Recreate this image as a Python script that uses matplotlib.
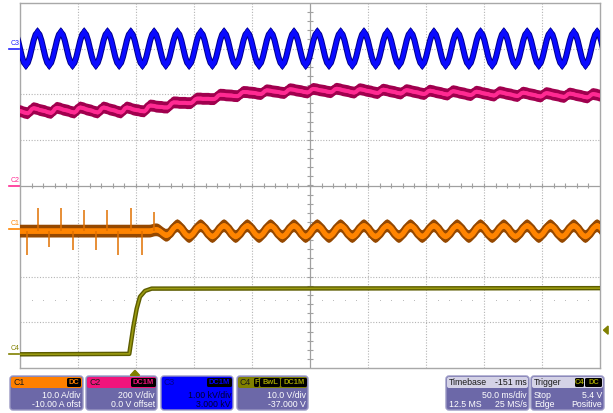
import numpy as np
import matplotlib
matplotlib.use("Agg")
import matplotlib.pyplot as plt
from matplotlib.patches import FancyBboxPatch, Polygon

plt.rcParams["font.family"] = ["Liberation Sans", "DejaVu Sans"]

# ── DATA (time in ms from left screen edge, levels in divisions) ────────────
PERIOD = 20.1                      # mains period (ms)
T_START = -10.0                    # start of first sampled cycle

# one cycle of each ripple, 12 samples (div)
c3_cycle = [0.0, 0.18, 0.31, 0.36, 0.31, 0.18, 0.0, -0.18, -0.31, -0.36, -0.31, -0.18]
c2_cycle = [0.04, 0.06, 0.05, 0.04, 0.02, 0.01, 0.0, -0.01, -0.03, -0.04, -0.05, -0.02]
c1_cycle = [0.0, 0.06, 0.10, 0.12, 0.10, 0.06, 0.0, -0.06, -0.10, -0.12, -0.10, -0.06]

# C3 (blue) offset level
c3_level = 3.0

# C2 (pink) slow level
c2_t = [0, 50, 100, 120, 145, 170, 200, 235, 270, 330, 400, 500]
c2_lvl = [1.63, 1.65, 1.65, 1.72, 1.83, 1.94, 2.03, 2.07, 2.08, 2.05, 2.01, 1.96]
c2_amp_t = [0, 115, 140, 500]
c2_amp = [1.0, 1.0, 0.7, 0.7]

# C1 (orange) level, ripple envelope and spikes
c1_level = -1.0
c1_amp_t = [0, 112, 130, 500]
c1_amp = [0.0, 0.0, 1.0, 1.0]
c1_up_t = [15.5, 35.3, 55.2, 75.0, 95.7, 115.5]
c1_up_y = [-0.49, -0.49, -0.53, -0.53, -0.49, -0.58]
c1_dn_t = [6.0, 25.0, 45.7, 65.5, 84.5, 105.2]
c1_dn_y = [-1.52, -1.35, -1.41, -1.41, -1.52, -1.52]

# C4 (olive) step
c4_t = [0, 94.2, 97.7, 100.6, 103.4, 107.8, 113.5, 500]
c4_lvl = [-3.70, -3.69, -3.10, -2.70, -2.44, -2.31, -2.26, -2.25]

TRIG_T = 99.1
TRIG_LVL = -3.17
MARK_ROW = -2.51

# ── FIGURE ──────────────────────────────────────────────────────────────────
W, H = 613, 413
fig = plt.figure(figsize=(W / 100, H / 100), dpi=100)
fig.patch.set_facecolor("white")

over = fig.add_axes([0, 0, 1, 1])
over.set_xlim(0, W)
over.set_ylim(H, 0)
over.axis("off")

ax = fig.add_axes([20 / W, (H - 368) / H, 580 / W, 365 / H])
ax.set_xlim(0, 500)
ax.set_ylim(-4, 4)
ax.set_xticks([])
ax.set_yticks([])
for s in ax.spines.values():
    s.set_color("#a8a8a8")
    s.set_linewidth(1.0)

# grid
grid_kw = dict(color="#b4b4b4", linewidth=0.8, linestyle=(0, (1, 1.5)), zorder=0)
for gx in range(50, 500, 50):
    if gx != 250:
        ax.axvline(gx, **grid_kw)
for gy in range(-3, 4):
    if gy != 0:
        ax.axhline(gy, **grid_kw)
ax.axvline(250, color="#a0a0a0", linewidth=0.9, zorder=0)
ax.axhline(0, color="#a0a0a0", linewidth=0.9, zorder=0)
tick_x = np.arange(10, 500, 10)
ax.vlines(tick_x, -0.06, 0.06, color="#a0a0a0", linewidth=0.8, zorder=0)
tick_y = np.arange(-3.8, 4.0, 0.2)
ax.hlines(tick_y, 247.5, 252.5, color="#a0a0a0", linewidth=0.8, zorder=0)
row_x = [x for x in tick_x if x % 50 != 0]
ax.plot(row_x, [MARK_ROW] * len(row_x), ls="none", marker="o", ms=0.7,
        mew=0, color="#b8b8b8", zorder=0)

# sampled time base
n_cyc = 27
t = T_START + np.arange(n_cyc * 12) * (PERIOD / 12)


def trace(y, edge, core, half, core_half, edge_lw, core_lw):
    ax.fill_between(t, y - half, y + half, color=edge, lw=0, zorder=3)
    ax.plot(t, y, color=edge, lw=edge_lw, zorder=3, solid_joinstyle="round")
    ax.fill_between(t, y - core_half, y + core_half, color=core, lw=0, zorder=3)
    ax.plot(t, y, color=core, lw=core_lw, zorder=3, solid_joinstyle="round")


# C3 blue
y3 = c3_level + np.tile(c3_cycle, n_cyc)
trace(y3, "#00008c", "#0a0aff", 0.11, 0.085, 4.3, 2.9)

# C2 pink
y2 = np.interp(t, c2_t, c2_lvl) + np.tile(c2_cycle, n_cyc) * np.interp(t, c2_amp_t, c2_amp)
trace(y2, "#a0004e", "#ff2a92", 0.13, 0.04, 6.5, 2.9)

# C1 orange
y1 = c1_level + np.tile(c1_cycle, n_cyc) * np.interp(t, c1_amp_t, c1_amp)
trace(y1, "#954800", "#ff8400", 0.14, 0.06, 6.5, 3.6)
ax.vlines(c1_up_t, c1_level, c1_up_y, color="#e07000", linewidth=1.1, zorder=4)
ax.vlines(c1_dn_t, c1_dn_y, c1_level, color="#e07000", linewidth=1.1, zorder=4)

# C4 olive
ax.plot(c4_t, c4_lvl, color="#5c5c00", linewidth=3.2, zorder=3,
        solid_joinstyle="round")
ax.plot(c4_t, c4_lvl, color="#9a9a10", linewidth=1.2, zorder=3)

# channel markers on the left edge
markers = [("C3", c3_level, "#2020ff"), ("C2", 0.0, "#ff2a92"),
           ("C1", c1_level + 0.04, "#ff8400"), ("C4", c4_lvl[0], "#808000")]
for name, lvl, col in markers:
    ax.plot([-9.5, 0], [lvl, lvl], color=col, linewidth=1.2, clip_on=False)
    ax.text(-8.5, lvl + 0.04, name, color=col, fontsize=5, ha="left",
            va="bottom", clip_on=False)

# trigger markers
ax.add_patch(Polygon([[TRIG_T - 4, -4.16], [TRIG_T + 4, -4.16], [TRIG_T, -4.05]],
                     closed=True, color="#808000", clip_on=False))
ax.add_patch(Polygon([[503, TRIG_LVL], [507, TRIG_LVL + 0.09], [507, TRIG_LVL - 0.09]],
                     closed=True, color="#808000", clip_on=False))

# ── STATUS BOXES ────────────────────────────────────────────────────────────
BODY = "#6c68a8"
TXT = 6.3


def box(x0, x1, head_col, body_col=BODY):
    over.add_patch(FancyBboxPatch((x0, 376), x1 - x0, 34,
                                  boxstyle="round,pad=0,rounding_size=3",
                                  fc=body_col, ec="#9a98c4", lw=1.0))
    over.add_patch(FancyBboxPatch((x0 + 1, 377), x1 - x0 - 2, 11,
                                  boxstyle="round,pad=0,rounding_size=2",
                                  fc=head_col, ec="none"))


def badge(x0, x1, label, col):
    over.add_patch(FancyBboxPatch((x0, 378), x1 - x0, 9,
                                  boxstyle="round,pad=0,rounding_size=1.5",
                                  fc="black", ec="none"))
    over.text((x0 + x1) / 2, 382.8, label, color=col, fontsize=5.4,
              ha="center", va="center", fontweight="bold")


def body(x0, x1, row1, row2, col="white"):
    for y, row in ((395, row1), (404.5, row2)):
        left, right = row
        if left:
            over.text(x0 + 3, y, left, color=col, fontsize=TXT, va="center", ha="left")
        if right:
            over.text(x1 - 2, y, right, color=col, fontsize=TXT, va="center", ha="right")


# C1
box(10, 83, "#ff8000")
over.text(13, 382.5, "C1", color="#1a1a1a", fontsize=TXT, va="center")
badge(67, 81, "DC", "#ff8000")
body(10, 83, (None, "10.0 A/div"), (None, "-10.00 A ofst"))

# C2
box(86, 157, "#f0147c")
over.text(89, 382.5, "C2", color="#1a1a1a", fontsize=TXT, va="center")
badge(131, 156, "DC1M", "#f0147c")
body(86, 157, (None, "200 V/div"), (None, "0.0 V offset"))

# C3
box(161, 233, "#0000ff", body_col="#0000ff")
over.text(164, 382.5, "C3", color="#000090", fontsize=TXT, va="center")
badge(207, 232, "DC1M", "#0000ff")
body(161, 233, (None, "1.00 kV/div"), (None, "3.000 kV"), col="#000030")

# C4
box(237, 308, "#808000")
over.text(240, 382.5, "C4", color="#1a1a1a", fontsize=TXT, va="center")
badge(254, 259, "F", "#a0a000")
badge(260, 280, "BwL", "#a0a000")
badge(281, 307, "DC1M", "#a0a000")
body(237, 308, (None, "10.0 V/div"), (None, "-37.000 V"))

# Timebase
box(446, 529, "#d4d2e6")
over.text(449, 382.5, "Timebase", color="#1a1a1a", fontsize=TXT, va="center")
over.text(527, 382.5, "-151 ms", color="#1a1a1a", fontsize=TXT, va="center", ha="right")
body(446, 529, (None, "50.0 ms/div"), ("12.5 MS", "25 MS/s"))

# Trigger
box(531, 604, "#d4d2e6")
over.text(534, 382.5, "Trigger", color="#1a1a1a", fontsize=TXT, va="center")
badge(575, 584, "C4", "#a0a000")
badge(585, 602, "DC", "#a0a000")
body(531, 604, ("Stop", "5.4 V"), ("Edge", "Positive"))

fig.savefig("out.png", dpi=100)
